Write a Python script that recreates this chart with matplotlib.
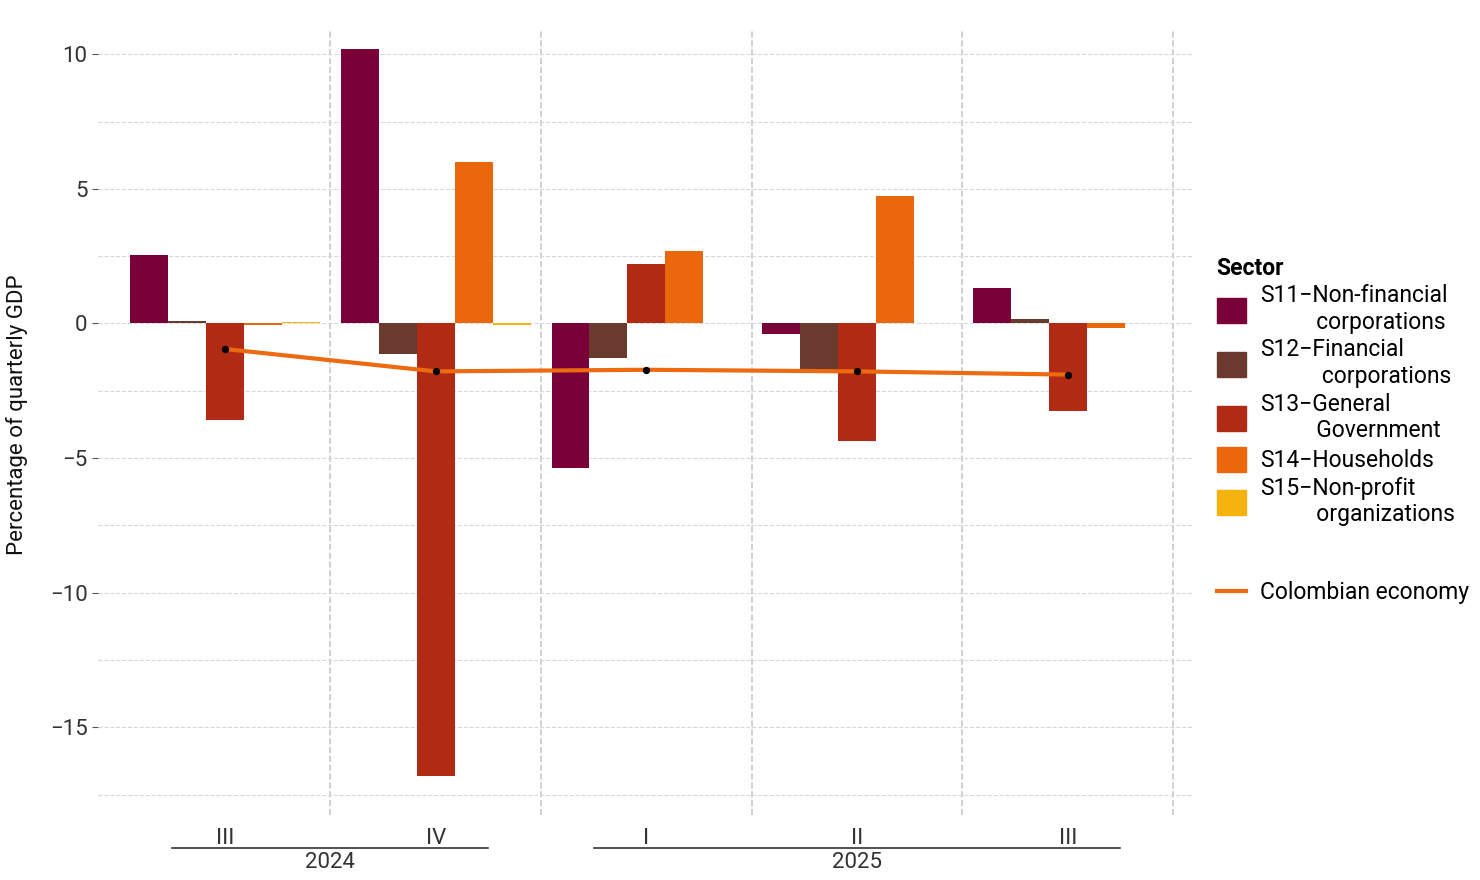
import numpy as np
import matplotlib.pyplot as plt
from matplotlib.patches import Patch
from matplotlib.lines import Line2D

plt.rcParams['font.family'] = ['Roboto', 'DejaVu Sans']

quarters = ['III', 'IV', 'I', 'II', 'III']
years = ['2024', '2025']
sectors = ['S11\u2212Non-financial\n          corporations', 'S12\u2212Financial\n           corporations',
           'S13\u2212General\n          Government', 'S14\u2212Households',
           'S15\u2212Non-profit\n          organizations']
colors = ['#7a0038', '#6b3a2e', '#b02a14', '#ea670c', '#f6b30f']
s11 = [2.55, 10.2, -5.35, -0.4, 1.3]
s12 = [0.1, -1.15, -1.3, -1.75, 0.15]
s13 = [-3.6, -16.8, 2.2, -4.35, -3.25]
s14 = [-0.05, 6.0, 2.7, 4.75, -0.15]
s15 = [0.05, -0.05, 0.0, 0.0, 0.0]
economy = [-0.95, -1.78, -1.72, -1.78, -1.9]

fig = plt.figure(figsize=(14.8, 8.8), dpi=100)
ax = fig.add_axes([98/1480, 80/880, 1094/1480, 770/880])
x = np.arange(len(quarters))
w = 0.18
for i, (vals, c) in enumerate(zip([s11, s12, s13, s14, s15], colors)):
    ax.bar(x + (i - 2) * w, vals, width=w, color=c, zorder=2)
ax.plot(x, economy, color='#ee6a10', lw=3, zorder=3)
ax.scatter(x, economy, color='black', s=18, zorder=4)

ax.set_xlim(-0.603, 4.59)
ax.set_ylim(-17.7, 10.9)
ax.set_yticks([10, 5, 0, -5, -10, -15])
ax.set_yticklabels(['10', '5', '0', '\u22125', '\u221210', '\u221215'])
ax.set_yticks(np.arange(-17.5, 11, 2.5), minor=True)
ax.grid(axis='y', which='both', ls='--', color='#d8d8d8', lw=0.8, zorder=0)
for b in x + 0.5:
    ax.axvline(b, color='#c8c8c8', ls='--', lw=1.2, zorder=1, clip_on=False, ymin=-0.02, ymax=1)
ax.set_xticks(x)
ax.set_xticklabels(quarters, fontsize=16, color='#333333')
ax.tick_params(axis='x', length=0, pad=20)
ax.tick_params(axis='y', labelsize=16, labelcolor='#333333', color='#555555', which='major', length=4)
ax.tick_params(axis='y', which='minor', length=0)
for s in ax.spines.values():
    s.set_visible(False)
ax.set_ylabel('Percentage of quarterly GDP', fontsize=16, color='#111111', labelpad=16)

# year labels
for (a, b2), yr in zip([(-0.25, 1.25), (1.75, 4.25)], years):
    ax.plot([a, b2], [-0.062, -0.062], transform=ax.get_xaxis_transform(), color='#333333', lw=1.2, clip_on=False)
    ax.text((a + b2) / 2, -0.068, yr, transform=ax.get_xaxis_transform(), ha='center', va='top',
            fontsize=16, color='#333333')

handles = [Patch(color=c, label=l) for c, l in zip(colors, sectors)]
leg = fig.legend(handles=handles, loc='upper left', bbox_to_anchor=(1196/1480, 1 - 236/880),
                 title='Sector', frameon=False, fontsize=16.5, title_fontsize=16.5,
                 handlelength=1.3, handleheight=1.3, labelspacing=0.2, handletextpad=0.6,
                 alignment='left')
leg.get_title().set_fontweight('bold')
fig.legend(handles=[Line2D([], [], color='#ee6a10', lw=3, label='Colombian economy')],
           loc='upper left', bbox_to_anchor=(1196/1480, 1 - 560/880), frameon=False,
           fontsize=16.5, handlelength=1.3, handletextpad=0.6)
fig.savefig('out.png', dpi=100)
